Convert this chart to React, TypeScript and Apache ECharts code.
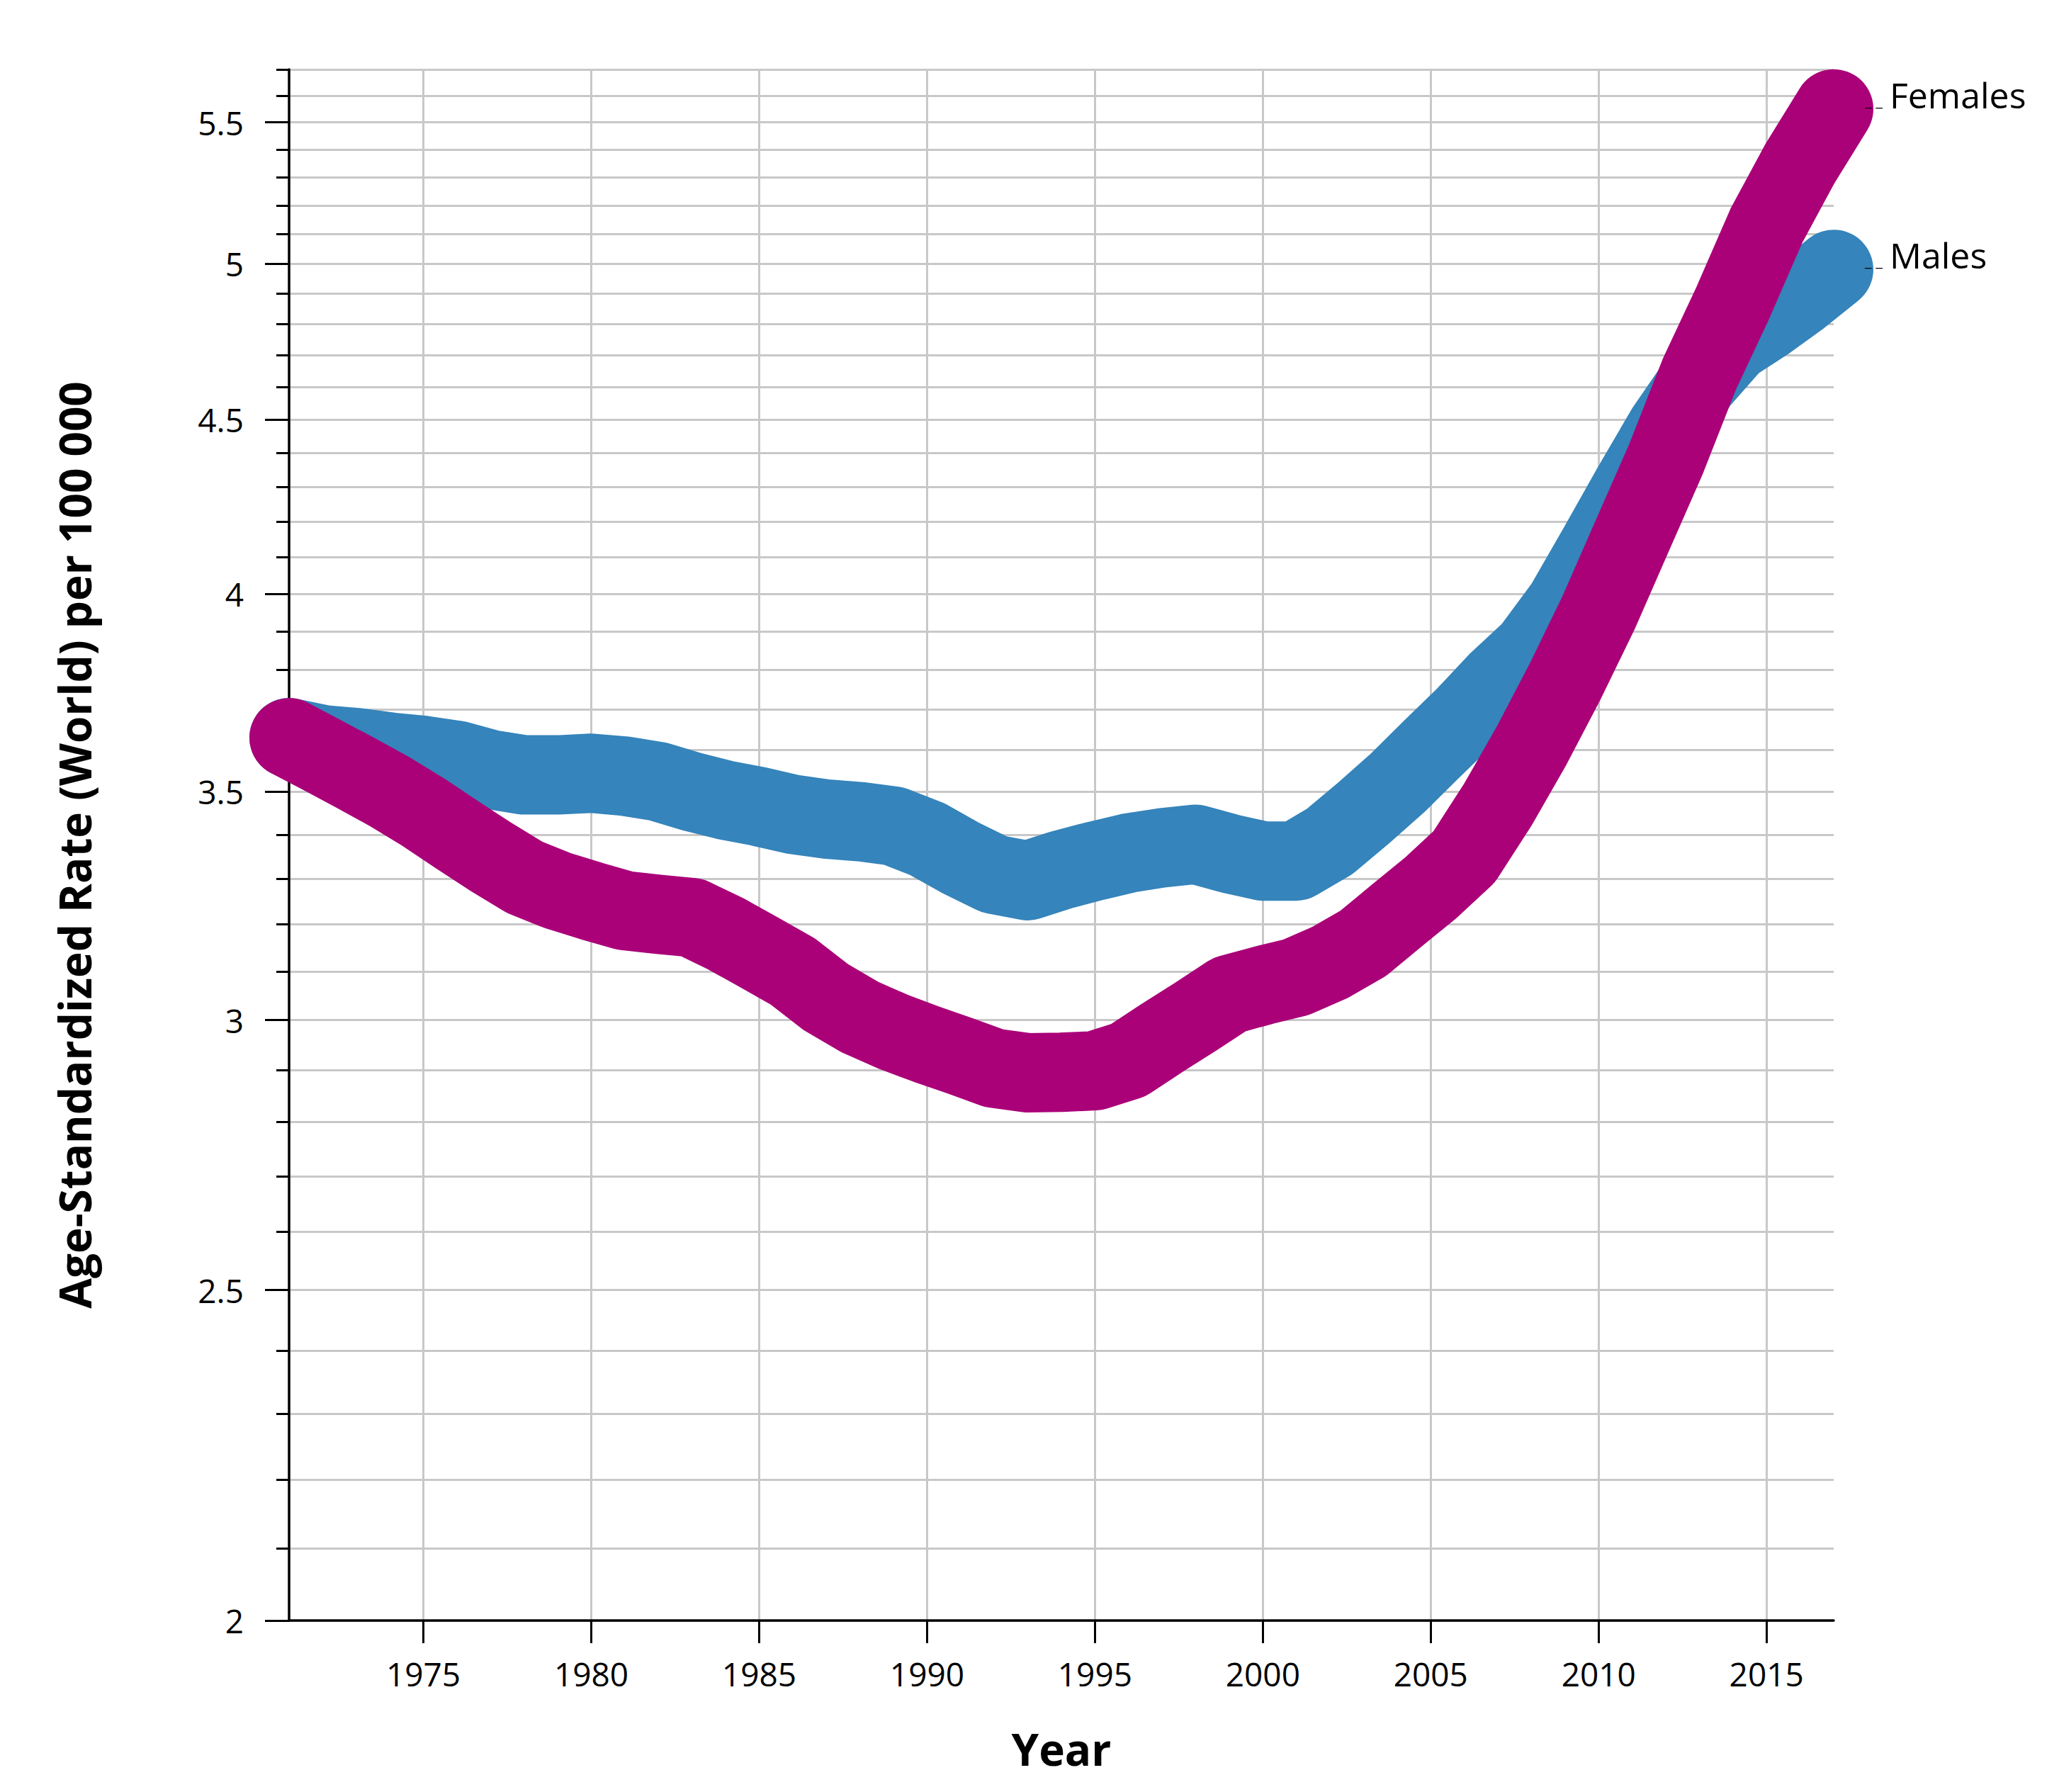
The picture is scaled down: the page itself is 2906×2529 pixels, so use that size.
import React, { useEffect, useRef } from "react";
import * as echarts from "echarts";

const years = [
  1971, 1972, 1973, 1974, 1975, 1976, 1977, 1978, 1979, 1980,
  1981, 1982, 1983, 1984, 1985, 1986, 1987, 1988, 1989, 1990,
  1991, 1992, 1993, 1994, 1995, 1996, 1997, 1998, 1999, 2000,
  2001, 2002, 2003, 2004, 2005, 2006, 2007, 2008, 2009, 2010,
  2011, 2012, 2013, 2014, 2015, 2016, 2017,
];

const males = [
  3.63, 3.613, 3.606, 3.595, 3.587, 3.575, 3.553, 3.54, 3.54, 3.544,
  3.537, 3.524, 3.5, 3.48, 3.465, 3.447, 3.436, 3.43, 3.42, 3.39,
  3.347, 3.31, 3.296, 3.32, 3.34, 3.358, 3.37, 3.378, 3.357, 3.34,
  3.34, 3.385, 3.45, 3.52, 3.6, 3.68, 3.77, 3.85, 3.97, 4.13,
  4.3, 4.47, 4.62, 4.74, 4.81, 4.89, 4.98,
];

const females = [
  3.63, 3.587, 3.544, 3.5, 3.452, 3.4, 3.35, 3.304, 3.274, 3.251,
  3.23, 3.222, 3.215, 3.18, 3.14, 3.1, 3.046, 3.006, 2.976, 2.951,
  2.928, 2.904, 2.895, 2.896, 2.899, 2.92, 2.964, 3.007, 3.052, 3.071,
  3.088, 3.119, 3.16, 3.22, 3.28, 3.35, 3.47, 3.61, 3.77, 3.95,
  4.16, 4.38, 4.64, 4.87, 5.13, 5.35, 5.55,
];

const seriesNames = ["Males", "Females"];
const seriesColors = ["#3584bb", "#aa0078"];

const xTicks = [1975, 1980, 1985, 1990, 1995, 2000, 2005, 2010, 2015];
const yMajorTicks = [2, 2.5, 3, 3.5, 4, 4.5, 5, 5.5];
const yAllTicks = [
  2, 2.1, 2.2, 2.3, 2.4, 2.5, 2.6, 2.7, 2.8, 2.9,
  3, 3.1, 3.2, 3.3, 3.4, 3.5, 3.6, 3.7, 3.8, 3.9,
  4, 4.1, 4.2, 4.3, 4.4, 4.5, 4.6, 4.7, 4.8, 4.9,
  5, 5.1, 5.2, 5.3, 5.4, 5.5, 5.6, 5.7,
];
const xMin = 1971;
const xMax = 2017;
const yMin = 2;
const yMax = 5.7;

const yTitle = "Age-Standardized Rate (World) per 100 000";
const xTitle = "Year";

const W = 2890;
const H = 2513;
const FONT = "'Open Sans', 'Noto Sans', sans-serif";

export default function App() {
  const ref = useRef<HTMLDivElement>(null);

  useEffect(() => {
    if (!ref.current) return;
    const chart = echarts.init(ref.current, null, { renderer: "svg" });
    const L = (v: number) => Math.log(v);
    const fmt = (v: number) => String(Math.round(Math.exp(v) * 10) / 10);
    const lineCol = "#000";
    const gridCol = "#c8c8c8";

    const mkSeries = (name: string, vals: number[], color: string) => ({
      name,
      type: "line",
      data: years.map((y, i) => [y, L(vals[i])]),
      showSymbol: false,
      symbol: "none",
      smooth: false,
      clip: false,
      yAxisIndex: 0,
      lineStyle: { width: 112, color, cap: "round", join: "round" },
      emphasis: { disabled: true },
      endLabel: {
        show: true,
        distance: 44,
        offset: [0, -20],
        formatter: "{d|_ _}{n|" + name + "}",
        rich: {
          d: {
            fontSize: 22,
            fontFamily: FONT,
            color: "#000",
            padding: [14, 10, 0, 0],
          },
          n: { fontSize: 50, fontFamily: FONT, color: "#000" },
        },
      },
    });

    const option: any = {
      animation: false,
      backgroundColor: "#fff",
      grid: {
        left: 400,
        right: W - 2580,
        top: 90,
        bottom: H - 2279,
        containLabel: false,
        outerBoundsMode: "none",
      },
      xAxis: {
        type: "value",
        min: xMin,
        max: xMax,
        axisLine: { show: true, lineStyle: { color: lineCol, width: 3.5 } },
        axisTick: {
          show: true,
          customValues: xTicks,
          length: 32,
          lineStyle: { color: lineCol, width: 3 },
        },
        axisLabel: {
          show: true,
          customValues: xTicks,
          formatter: (v: number) => String(v),
          margin: 52,
          fontSize: 46,
          fontFamily: FONT,
          color: "#000",
        },
        splitLine: { show: true, lineStyle: { color: gridCol, width: 3 } },
        name: xTitle,
        nameLocation: "middle",
        nameGap: 150,
        nameTextStyle: {
          fontSize: 62,
          fontWeight: "bold",
          fontFamily: FONT,
          color: "#000",
        },
      },
      yAxis: [
        {
          type: "value",
          min: L(yMin),
          max: L(yMax),
          position: "left",
          axisLine: { show: true, lineStyle: { color: lineCol, width: 3.5 } },
          axisTick: {
            show: true,
            customValues: yAllTicks.map(L),
            length: 18,
            lineStyle: { color: lineCol, width: 3 },
          },
          axisLabel: { show: false },
          splitLine: { show: true, lineStyle: { color: gridCol, width: 3 } },
        },
        {
          type: "value",
          min: L(yMin),
          max: L(yMax),
          position: "left",
          axisLine: { show: false },
          axisTick: {
            show: true,
            customValues: yMajorTicks.map(L),
            length: 34,
            lineStyle: { color: lineCol, width: 3 },
          },
          axisLabel: {
            show: true,
            customValues: yMajorTicks.map(L),
            formatter: (v: number) => fmt(v),
            margin: 64,
            fontSize: 46,
            fontFamily: FONT,
            color: "#000",
          },
          splitLine: { show: false },
          name: yTitle,
          nameLocation: "middle",
          nameGap: 272,
          nameTextStyle: {
            fontSize: 62,
            fontWeight: "bold",
            fontFamily: FONT,
            color: "#000",
          },
        },
      ],
      series: [
        mkSeries(seriesNames[0], males, seriesColors[0]),
        mkSeries(seriesNames[1], females, seriesColors[1]),
      ],
    };

    chart.setOption(option);
    return () => chart.dispose();
  }, []);

  return <div ref={ref} style={{ width: W, height: H }} />;
}
